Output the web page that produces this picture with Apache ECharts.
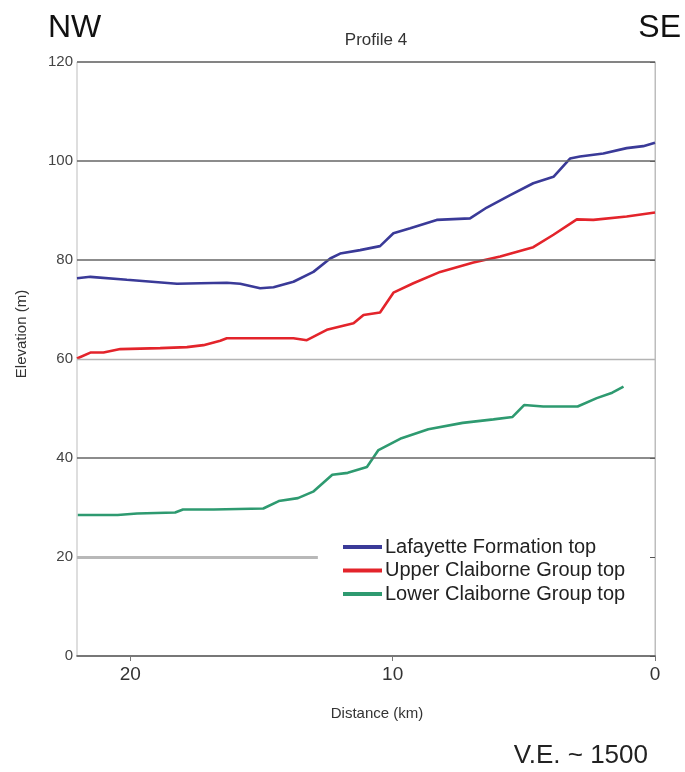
<!DOCTYPE html>
<html>
<head>
<meta charset="utf-8">
<script src="https://cdn.jsdelivr.net/npm/echarts@6/dist/echarts.min.js"></script>
<style>
html,body{margin:0;padding:0;background:#fff;}
#chart{width:685px;height:772px;}
</style>
</head>
<body>
<div id="chart"></div>
<script>
// ---- data (distance in km from SE end, elevation in m) ----
var seriesNames = ['Lafayette Formation top', 'Upper Claiborne Group top', 'Lower Claiborne Group top'];
var blueX = [22.03,21.52,20.13,18.22,17.33,16.32,15.81,15.05,14.54,13.78,13.02,12.38,12.0,11.24,10.48,9.97,9.33,8.32,7.05,6.41,5.52,4.64,3.87,3.24,2.86,1.97,1.08,0.45,0];
var blueY = [76.3,76.6,76.0,75.2,75.3,75.4,75.2,74.3,74.5,75.6,77.6,80.3,81.3,82.0,82.8,85.4,86.4,88.1,88.4,90.6,93.1,95.5,96.8,100.5,100.9,101.5,102.6,103.0,103.7];
var redX = [22.03,21.52,21.02,20.38,18.86,17.84,17.21,16.57,16.32,13.78,13.27,12.51,11.49,11.11,10.48,9.97,9.21,8.19,6.92,5.90,4.64,3.87,2.98,2.35,1.08,0];
var redY = [60.1,61.3,61.3,62.0,62.2,62.4,62.8,63.7,64.2,64.2,63.8,65.9,67.2,68.9,69.4,73.4,75.3,77.6,79.5,80.7,82.6,85.1,88.2,88.1,88.8,89.6];
var greenX = [22.0,20.48,19.74,18.29,17.99,16.82,14.93,14.34,13.61,13.03,12.30,11.71,10.98,10.54,9.66,8.64,7.33,6.16,5.43,4.99,4.26,2.95,2.22,1.63,1.20];
var greenY = [28.5,28.5,28.8,29.0,29.6,29.6,29.8,31.3,31.9,33.2,36.6,37.0,38.2,41.6,44.0,45.8,47.1,47.8,48.3,50.7,50.4,50.4,52.1,53.2,54.4];
var xTickLabels = [0, 10, 20];
var xMax = 22.03;
var yTicks = [0, 20, 40, 60, 80, 100, 120];
var gridDark = [40, 80, 100, 120];
var gridLight = [60];
var gridPartial = 20;

function pairs(xs, ys) { return xs.map(function (x, i) { return [x, ys[i]]; }); }

var FONT = '"Liberation Sans", Arial, sans-serif';
var colors = ['#3a3a98', '#e3242b', '#2e9a70'];

var markData = [];
gridDark.forEach(function (v) {
  markData.push({ yAxis: v, lineStyle: { color: '#666', width: 1.6, type: 'solid' } });
});
gridLight.forEach(function (v) {
  markData.push({ yAxis: v, lineStyle: { color: '#b4b4b4', width: 1.4, type: 'solid' } });
});
markData.push([
  { coord: [xMax, gridPartial], lineStyle: { color: '#b8b8b8', width: 3, type: 'solid' } },
  { coord: [12.85, gridPartial] }
]);

var chart = echarts.init(document.getElementById('chart'), null, { renderer: 'canvas' });
chart.setOption({
  animation: false,
  backgroundColor: '#fff',
  grid: { left: 77, right: 30, top: 62, bottom: 116, show: true, borderColor: '#bdbdbd', borderWidth: 1 },
  legend: {
    data: seriesNames,
    orient: 'vertical',
    left: 343, top: 537,
    padding: 0,
    itemGap: 3.5,
    itemWidth: 39, itemHeight: 4,
    icon: 'rect',
    textStyle: { fontFamily: FONT, fontSize: 20, color: '#222', lineHeight: 20, padding: [0, 0, 0, -2] }
  },
  xAxis: {
    type: 'value', inverse: true, min: 0, max: xMax, interval: 10,
    axisLine: { show: true, lineStyle: { color: '#555', width: 1.6 } },
    axisTick: { show: true, length: 5, customValues: xTickLabels, lineStyle: { color: '#777' } },
    axisLabel: { customValues: xTickLabels, fontFamily: FONT, fontSize: 19, color: '#333', margin: 9 },
    splitLine: { show: false }
  },
  yAxis: {
    type: 'value', min: 0, max: 120, interval: 20,
    axisLine: { show: true, lineStyle: { color: '#bdbdbd', width: 1 } },
    axisTick: { show: true, length: 5, lineStyle: { color: '#555' } },
    axisLabel: { fontFamily: FONT, fontSize: 15, color: '#444', margin: 4 },
    splitLine: { show: false }
  },
  graphic: [
    { type: 'text', left: 48, top: 12, style: { text: 'NW', font: '32px ' + FONT, fill: '#111' } },
    { type: 'text', right: 4, top: 12, style: { text: 'SE', font: '32px ' + FONT, fill: '#111' } },
    { type: 'text', x: 376, y: 40, style: { text: 'Profile 4', font: '17px ' + FONT, fill: '#333', textAlign: 'center', textVerticalAlign: 'middle' } },
    { type: 'text', x: 22, y: 334, rotation: Math.PI / 2, style: { text: 'Elevation (m)', font: '15px ' + FONT, fill: '#333', textAlign: 'center', textVerticalAlign: 'middle' } },
    { type: 'text', x: 377, y: 714, style: { text: 'Distance (km)', font: '15px ' + FONT, fill: '#333', textAlign: 'center', textVerticalAlign: 'middle' } },
    { type: 'text', x: 648, y: 756, style: { text: 'V.E. ~ 1500', font: '26px ' + FONT, fill: '#222', textAlign: 'right', textVerticalAlign: 'middle' } }
  ],
  series: [
    {
      name: 'gridlines', type: 'line', data: [], z: 1, silent: true,
      markLine: { silent: true, symbol: 'none', label: { show: false }, data: markData, animation: false }
    },
    { name: seriesNames[0], type: 'line', data: pairs(blueX, blueY), showSymbol: false, color: colors[0], lineStyle: { width: 2.6, color: colors[0] }, z: 3 },
    { name: seriesNames[1], type: 'line', data: pairs(redX, redY), showSymbol: false, color: colors[1], lineStyle: { width: 2.6, color: colors[1] }, z: 3 },
    { name: seriesNames[2], type: 'line', data: pairs(greenX, greenY), showSymbol: false, color: colors[2], lineStyle: { width: 2.6, color: colors[2] }, z: 3 }
  ]
});
</script>
</body>
</html>
